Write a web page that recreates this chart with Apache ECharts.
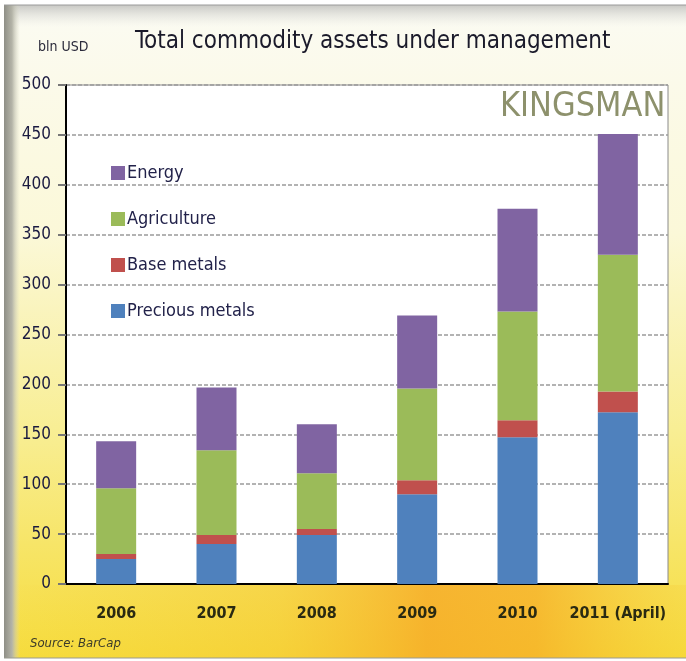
<!DOCTYPE html>
<html><head><meta charset="utf-8">
<script src="https://cdn.jsdelivr.net/npm/echarts@6/dist/echarts.min.js"></script>
<style>html,body{margin:0;padding:0;background:#fff}#c{width:686px;height:661px}</style>
</head><body><div id="c"></div>
<script>
const categories = ['2006', '2007', '2008', '2009', '2010', '2011 (April)'];
const preciousMetals = [25, 40, 49, 90, 147, 172];
const baseMetals = [5, 9, 6, 14, 17, 21];
const agriculture = [66, 85, 56, 92, 109, 137];
const energy = [47, 63, 49, 73, 103, 121];
const yTicks = { min: 0, max: 500, interval: 50 };

const FONT = "'Liberation Sans Narrow','DejaVu Sans Condensed',Lato,sans-serif";
const chart = echarts.init(document.getElementById('c'), null, { renderer: 'canvas' });

chart.setOption({
  backgroundColor: '#ffffff',
  graphic: [
    { type: 'rect', z: -10, silent: true, shape: { x: 4, y: 5, width: 682, height: 653 },
      style: { fill: new echarts.graphic.LinearGradient(0, 0, 0, 1, [
        { offset: 0, color: '#fbfbf3' }, { offset: 0.35, color: '#fbf8d8' },
        { offset: 0.65, color: '#f8ee94' }, { offset: 1, color: '#f6dc3c' }]) } },
    { type: 'rect', z: -9, silent: true, shape: { x: 4, y: 585, width: 682, height: 73 },
      style: { fill: new echarts.graphic.LinearGradient(0, 0, 1, 0, [
        { offset: 0, color: 'rgba(246,200,50,0)' }, { offset: 0.4, color: 'rgba(246,190,45,0.35)' },
        { offset: 0.62, color: 'rgba(246,165,35,0.75)' }, { offset: 0.78, color: 'rgba(246,170,35,0.7)' },
        { offset: 1, color: 'rgba(246,200,50,0.2)' }]) } },
    { type: 'rect', z: -8, silent: true, shape: { x: 4, y: 5, width: 682, height: 22 },
      style: { fill: new echarts.graphic.LinearGradient(0, 0, 0, 1, [
        { offset: 0, color: '#c8c8c4' }, { offset: 1, color: 'rgba(230,230,226,0)' }]) } },
    { type: 'rect', z: -7, silent: true, shape: { x: 4, y: 5, width: 16, height: 653 },
      style: { fill: new echarts.graphic.LinearGradient(0, 0, 1, 0, [
        { offset: 0, color: '#8e8e86' }, { offset: 0.5, color: '#b4b4a8' }, { offset: 1, color: 'rgba(220,220,200,0)' }]) } },
    { type: 'line', z: -6, silent: true, shape: { x1: 4, y1: 5, x2: 686, y2: 5 }, style: { stroke: '#9a9a9a', lineWidth: 1 } },
    { type: 'line', z: -6, silent: true, shape: { x1: 4, y1: 658, x2: 686, y2: 658 }, style: { stroke: '#9a9a90', lineWidth: 1 } },
    { type: 'text', left: 38, top: 40, style: { text: 'bln USD', font: "14px " + FONT, fill: '#2a2a3a' } },
    { type: 'text', left: 135, top: 30, style: { text: 'Total commodity assets under management', font: "24px " + FONT, fill: '#1a1a2a' } },
    { type: 'text', left: 500, top: 90, z: 50, style: { text: 'KINGSMAN', font: "34px " + FONT, fill: '#8d916c' } },
    { type: 'text', left: 30, top: 637, style: { text: 'Source: BarCap', font: "italic 13px " + FONT, fill: '#3a3a2a' } }
  ],
  grid: { left: 66, right: 18, top: 85, bottom: 77, show: true, backgroundColor: '#ffffff', borderColor: '#8a8a8a', borderWidth: 1 },
  legend: {
    orient: 'vertical', left: 106, top: 159, itemWidth: 14, itemHeight: 14, itemGap: 28,
    icon: 'rect',
    data: ['Energy', 'Agriculture', 'Base metals', 'Precious metals'],
    textStyle: { fontFamily: FONT, fontSize: 18, color: '#22224a', padding: [0, 0, 0, -3] }
  },
  xAxis: {
    type: 'category', data: categories,
    axisLine: { lineStyle: { color: '#000', width: 2 } },
    axisTick: { show: false },
    axisLabel: { interval: 0, fontFamily: FONT, fontSize: 16, fontWeight: 'bold', color: '#2a2a12', margin: 22 }
  },
  yAxis: {
    type: 'value', min: yTicks.min, max: yTicks.max, interval: yTicks.interval,
    axisLine: { show: true, lineStyle: { color: '#000', width: 2 } },
    axisTick: { show: true, length: 8, lineStyle: { color: '#777', width: 2 } },
    axisLabel: { fontFamily: FONT, fontSize: 17, color: '#1a1a40', margin: 15 },
    splitLine: { lineStyle: { color: '#9a9a9a', width: 1.5, type: [4, 2] } }
  },
  series: [
    { name: 'Precious metals', type: 'bar', stack: 't', barWidth: 40, data: preciousMetals, itemStyle: { color: '#4f81bd' } },
    { name: 'Base metals', type: 'bar', stack: 't', barWidth: 40, data: baseMetals, itemStyle: { color: '#c0504d' } },
    { name: 'Agriculture', type: 'bar', stack: 't', barWidth: 40, data: agriculture, itemStyle: { color: '#9bbb59' } },
    { name: 'Energy', type: 'bar', stack: 't', barWidth: 40, data: energy, itemStyle: { color: '#8064a2' } }
  ]
});
</script></body></html>
